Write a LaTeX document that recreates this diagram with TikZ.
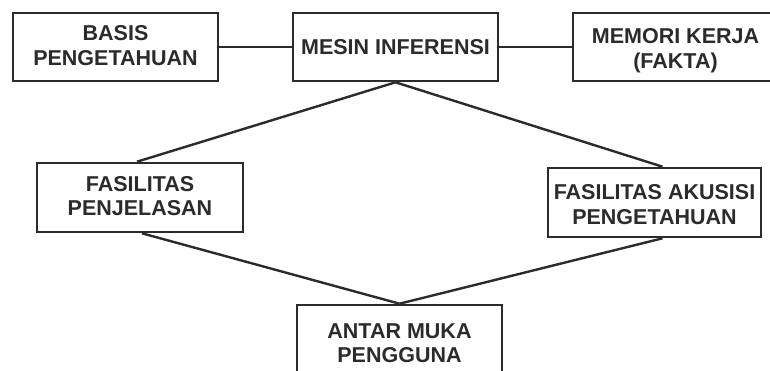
\documentclass[tikz,border=0pt]{standalone}
\usepackage{fontspec}
\setmainfont{Liberation Sans}
\definecolor{ink}{HTML}{2B2B2B}
\begin{document}
\begin{tikzpicture}[x=1pt,y=-1pt,
  blok/.style={draw=ink, line width=2.6pt, rectangle, inner sep=0pt,
    minimum width=205pt, minimum height=68pt},
  teks/.style={text=ink, align=center, inner sep=0pt,
    font=\fontsize{21.5}{24.5}\selectfont\bfseries},
  garis/.style={draw=ink, line width=2.4pt}]
  \useasboundingbox (0,0) rectangle (770,370);
  \fill[white] (0,0) rectangle (770,370);

  % top row
  \node[blok] (basis) at (115.5,47) {};
  \node[blok] (mesin) at (395.5,47) {};
  \node[blok] (memori) at (675.5,47) {};
  \node[teks] (basisT) at ([yshift=1.5pt]basis.center) {BASIS\\PENGETAHUAN};
  \node[teks] (mesinT) at ([yshift=-0.5pt]mesin.center) {MESIN INFERENSI};
  \node[teks] (memoriT) at ([yshift=-3.5pt]memori.center) {MEMORI KERJA\\(FAKTA)};

  % middle row
  \node[blok, minimum width=206pt, minimum height=69pt] (jelas) at (140,197.5) {};
  \node[blok, minimum width=213pt, minimum height=69pt] (akuisisi) at (654.5,202.5) {};
  \node[teks] (jelasT) at ([yshift=1.5pt]jelas.center) {FASILITAS\\PENJELASAN};
  \node[teks] (akuisisiT) at ([yshift=-2pt]akuisisi.center) {FASILITAS AKUSISI\\PENGETAHUAN};

  % bottom box, running past the lower edge
  \node[blok, minimum height=76pt] (antar) at (399.5,343) {};
  \node[teks] (antarT) at (399.5,343) {ANTAR MUKA\\PENGGUNA};

  % connectors
  \draw[garis] (basis.east) -- (mesin.west);
  \draw[garis] (mesin.east) -- (memori.west);
  \draw[garis] (mesin.south) -- ([xshift=-3pt]jelas.north);
  \draw[garis] (mesin.south) -- ([xshift=8pt]akuisisi.north);
  \draw[garis] ([xshift=2pt]jelas.south) -- (antar.north);
  \draw[garis] ([xshift=8pt]akuisisi.south) -- (antar.north);
\end{tikzpicture}
\end{document}
